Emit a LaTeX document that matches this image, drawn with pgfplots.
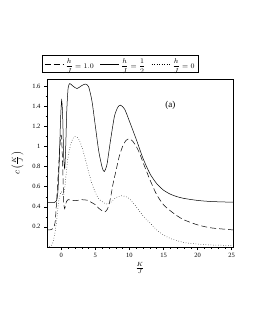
\documentclass[border=0pt]{standalone}
\usepackage{fontspec}
\setmainfont{Liberation Serif}
\usepackage{pgfplots}
\pgfplotsset{compat=1.18}
\begin{document}
\begin{tikzpicture}
\path[use as bounding box] (0,0) rectangle (255pt,330pt);
\begin{axis}[
  at={(47pt,83pt)}, anchor=south west,
  width=186pt, height=168pt, scale only axis,
  xmin=-2.1, xmax=25.2, ymin=0, ymax=1.67,
  xtick={0,5,10,15,20,25},
  ytick={0.2,0.4,0.6,0.8,1,1.2,1.4,1.6},
  yticklabels={0.2,0.4,0.6,0.8,1,1.2,1.4,1.6},
  minor x tick num=4, minor y tick num=1,
  tick align=outside, xtick pos=left, ytick pos=left,
  major tick length=3pt, minor tick length=1.5pt,
  tick style={black, line width=0.4pt},
  /pgf/number format/assume math mode=true,
  ticklabel style={font=\fontsize{6.5}{7}\selectfont},
  xlabel={$\frac{K}{J}$},
  ylabel={$c\left(\frac{K}{J}\right)$},
  label style={font=\fontsize{9}{10}\selectfont},
  xlabel style={yshift=2pt},
  ylabel style={yshift=2pt},
  legend columns=3,
  legend style={at={(axis description cs:0.395,1.089)}, anchor=center,
    font=\fontsize{7}{8}\selectfont, draw=black, line width=0.7pt,
    inner xsep=2pt, inner ysep=1pt, row sep=0pt,
    /tikz/every even column/.append style={column sep=4pt}},
  legend image post style={line width=0.5pt},
  legend image code/.code={\draw[#1] (0cm,0cm) -- (0.65cm,0cm);},
  axis line style={line width=0.5pt},
]
% h/J = 1.0 (dashed)
\addplot[black, line width=0.5pt, dash pattern=on 6pt off 3pt, smooth, tension=0.4] coordinates {
(-2.1,0.17)(-1.5,0.172)(-1.2,0.185)(-0.9,0.25)(-0.65,0.5)(-0.35,0.85)(-0.1,1.1)(0.05,1.08)(0.2,0.8)(0.35,0.45)(0.5,0.38)(0.7,0.44)(1.0,0.47)(2,0.46)(3,0.47)(3.8,0.465)(4.5,0.44)(5,0.42)(5.5,0.385)(6,0.36)(6.4,0.35)(6.8,0.38)(7.2,0.48)(7.6,0.63)(8,0.75)(8.5,0.9)(9,1.0)(9.5,1.06)(10,1.075)(10.5,1.05)(11,1.0)(11.5,0.93)(12,0.84)(13,0.67)(14,0.52)(15,0.42)(16,0.36)(17,0.31)(18,0.27)(20,0.22)(22,0.19)(25.2,0.17)
};
\addlegendentry{$\displaystyle\frac{h}{J}=1.0$}
% h/J = 1/2 (solid)
\addplot[black, line width=0.5pt, smooth, tension=0.4] coordinates {
(-2.1,0.44)(-1.5,0.44)(-1,0.443)(-0.7,0.46)(-0.5,0.55)(-0.3,0.85)(-0.12,1.25)(0.05,1.46)(0.2,1.3)(0.35,0.9)(0.5,0.78)(0.65,1.0)(0.8,1.35)(1.0,1.58)(1.25,1.625)(1.7,1.6)(2.3,1.575)(2.9,1.6)(3.5,1.62)(4.0,1.595)(4.5,1.45)(5.0,1.2)(5.5,0.95)(6.0,0.79)(6.3,0.75)(6.7,0.82)(7.2,1.05)(7.8,1.3)(8.3,1.39)(8.7,1.41)(9.3,1.37)(10,1.25)(11,1.07)(12,0.88)(13,0.73)(14,0.63)(15,0.565)(16,0.525)(17,0.5)(18,0.483)(20,0.463)(22,0.452)(25.2,0.445)
};
\addlegendentry{$\displaystyle\frac{h}{J}=\frac{1}{2}$}
% h/J = 0 (dotted)
\addplot[black, line width=0.5pt, dotted, smooth, tension=0.4] coordinates {
(-2.1,0)(-1.5,0.01)(-1.2,0.05)(-0.8,0.2)(-0.4,0.45)(0,0.55)(0.3,0.5)(0.6,0.65)(1.0,0.9)(1.5,1.05)(2.0,1.1)(2.5,1.08)(3,1.0)(3.5,0.88)(4,0.75)(4.5,0.63)(5,0.54)(5.5,0.48)(6,0.45)(6.5,0.43)(7,0.43)(7.5,0.46)(8,0.49)(8.8,0.51)(9.5,0.5)(10,0.48)(11,0.4)(12,0.31)(13,0.24)(14,0.17)(15,0.12)(16,0.085)(18,0.045)(20,0.03)(22,0.02)(25.2,0.015)
};
\addlegendentry{$\displaystyle\frac{h}{J}=0$}
\node[font=\fontsize{9}{10}\selectfont] at (axis cs:16,1.41) {(a)};
\end{axis}
\end{tikzpicture}
\end{document}
